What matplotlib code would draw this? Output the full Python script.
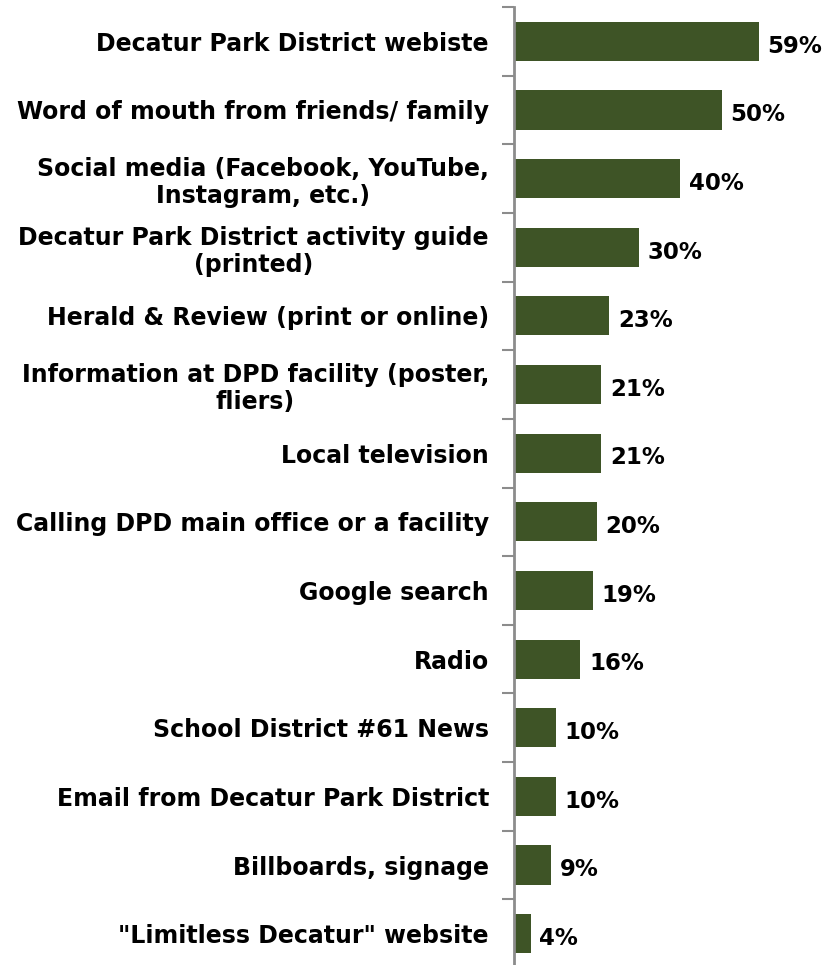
import matplotlib
matplotlib.use("Agg")
import matplotlib.pyplot as plt
import numpy as np

categories = [
    "Decatur Park District webiste",
    "Word of mouth from friends/ family",
    "Social media (Facebook, YouTube,\nInstagram, etc.)",
    "Decatur Park District activity guide\n(printed)",
    "Herald & Review (print or online)",
    "Information at DPD facility (poster,\nfliers)",
    "Local television",
    "Calling DPD main office or a facility",
    "Google search",
    "Radio",
    "School District #61 News",
    "Email from Decatur Park District",
    "Billboards, signage",
    "\"Limitless Decatur\" website",
]
values = [59, 50, 40, 30, 23, 21, 21, 20, 19, 16, 10, 10, 9, 4]

bar_color = "#3e5426"
axis_color = "#8c8c8c"
font = "DejaVu Sans"
label_size = 17
value_size = 16.5

W, H = 832, 965
fig = plt.figure(figsize=(W / 100, H / 100), dpi=100)
left_px, right_px, top_px, bottom_px = 514, 832, 7, 968
ax = fig.add_axes([left_px / W, (H - bottom_px) / H,
                   (right_px - left_px) / W, (bottom_px - top_px) / H])

n = len(categories)
y = np.arange(n)
ax.barh(y, values, height=0.57, color=bar_color, zorder=2)
ax.set_ylim(n - 0.5, -0.5)
ax.set_xlim(0, (right_px - left_px) / 4.15)

for yi, v in zip(y, values):
    ax.text(v + 2.1, yi + 0.07, f"{v}%", va="center", ha="left",
            fontsize=value_size, fontweight="bold", family=font, color="black")

ax.set_yticks(y)
ax.set_yticklabels(categories, fontsize=label_size, fontweight="bold",
                   family=font, linespacing=1.15)
for lbl in ax.get_yticklabels():
    lbl.set_multialignment("center")
ax.tick_params(axis="y", which="major", length=0, pad=18)

# boundary tick marks between categories
ax.set_yticks(np.arange(-0.5, n, 1.0), minor=True)
ax.tick_params(axis="y", which="minor", length=9, width=1.5, color=axis_color,
               direction="out")
ax.set_xticks([])
for s in ["top", "right", "bottom"]:
    ax.spines[s].set_visible(False)
ax.spines["left"].set_color(axis_color)
ax.spines["left"].set_linewidth(2)

fig.savefig("out.png", dpi=100)
